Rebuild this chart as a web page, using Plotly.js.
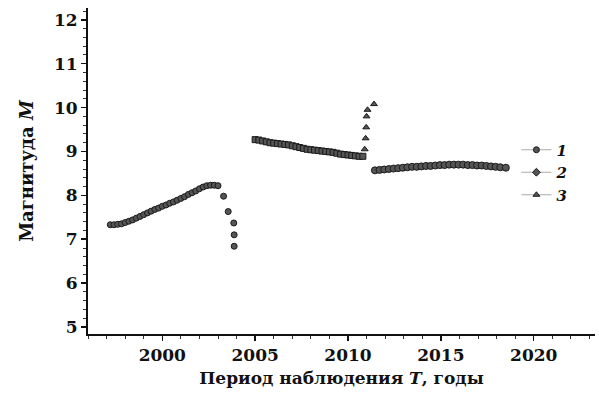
<!DOCTYPE html>
<html>
<head>
<meta charset="utf-8">
<script src="https://cdn.plot.ly/plotly-3.0.1.min.js"></script>
<style>html,body{margin:0;padding:0;background:#fff;}#chart{width:599px;height:400px;}</style>
</head>
<body>
<div id="chart"></div>
<script>
// Series 1 (circles): first segment 1997–2003.9 and third segment 2011.5–2018.5
const s1aYears = [1997.2,1997.4,1997.6,1997.8,1998.0,1998.2,1998.4,1998.6,1998.8,1999.0,
  1999.2,1999.4,1999.6,1999.8,2000.0,2000.2,2000.4,2000.6,2000.8,2001.0,
  2001.2,2001.4,2001.6,2001.8,2002.0,2002.2,2002.4,2002.6,2002.8,2003.0,
  2003.3,2003.55,2003.85,2003.87,2003.87];
const s1aMag = [7.33,7.33,7.34,7.35,7.38,7.41,7.44,7.48,7.52,7.56,
  7.60,7.64,7.68,7.71,7.75,7.78,7.82,7.85,7.89,7.93,
  7.97,8.02,8.06,8.10,8.15,8.19,8.22,8.23,8.23,8.22,
  7.98,7.63,7.37,7.10,6.84];
const s1bYears = [2011.45,2011.7,2011.95,2012.2,2012.45,2012.7,2012.95,2013.2,2013.45,2013.7,
  2013.95,2014.2,2014.45,2014.7,2014.95,2015.2,2015.45,2015.7,2015.95,2016.2,
  2016.45,2016.7,2016.95,2017.2,2017.45,2017.7,2017.95,2018.2,2018.5];
const s1bMag = [8.57,8.58,8.59,8.60,8.61,8.62,8.63,8.64,8.65,8.65,
  8.66,8.67,8.67,8.68,8.69,8.69,8.70,8.70,8.70,8.70,
  8.69,8.69,8.68,8.68,8.67,8.66,8.65,8.64,8.63];
// Series 2: 2005–2010.8
const s2Years = [2005.0,2005.2,2005.4,2005.6,2005.8,2006.0,2006.2,2006.4,2006.6,2006.8,
  2007.0,2007.2,2007.4,2007.6,2007.8,2008.0,2008.2,2008.4,2008.6,2008.8,
  2009.0,2009.2,2009.4,2009.6,2009.8,2010.0,2010.2,2010.4,2010.6,2010.8];
const s2Mag = [9.27,9.26,9.24,9.22,9.20,9.19,9.18,9.17,9.16,9.15,
  9.13,9.11,9.09,9.07,9.05,9.04,9.03,9.02,9.01,9.00,
  8.99,8.98,8.96,8.94,8.93,8.92,8.91,8.90,8.89,8.89];
// Series 3: rise in 2011
const s3Years = [2010.9,2010.95,2010.98,2011.0,2011.05,2011.4];
const s3Mag = [9.05,9.30,9.55,9.80,9.95,10.08];
const legendNames = ['1','2','3'];
const xTicks = [2000,2005,2010,2015,2020];
const yTicks = [5,6,7,8,9,10,11,12];

const serif = '"DejaVu Serif", "Liberation Serif", serif';
const mk = (sym, size) => ({symbol: sym, size: size, color: '#555', line: {color: '#1a1a1a', width: 1}});

const traces = [
  {x: s1aYears, y: s1aMag, mode: 'markers', marker: mk('circle', 6), showlegend: false},
  {x: s1bYears, y: s1bMag, mode: 'markers', marker: mk('circle', 7), showlegend: false},
  {x: s2Years, y: s2Mag, mode: 'markers', marker: mk('square', 6), showlegend: false},
  {x: s3Years, y: s3Mag, mode: 'markers', marker: mk('triangle-up', 6), showlegend: false},
  {x: [null], y: [null], mode: 'lines+markers', name: '<b><i>' + legendNames[0] + '</i></b>', marker: mk('circle', 6), line: {color: '#aaa', width: 1}},
  {x: [null], y: [null], mode: 'lines+markers', name: '<b><i>' + legendNames[1] + '</i></b>', marker: mk('diamond', 6), line: {color: '#aaa', width: 1}},
  {x: [null], y: [null], mode: 'lines+markers', name: '<b><i>' + legendNames[2] + '</i></b>', marker: mk('triangle-up', 6), line: {color: '#aaa', width: 1}}
];

const layout = {
  width: 599, height: 400,
  margin: {l: 88, r: 4, t: 8, b: 66},
  paper_bgcolor: '#fff', plot_bgcolor: '#fff',
  font: {family: serif, color: '#111'},
  showlegend: true,
  legend: {x: 0.845, y: 0.615, xanchor: 'left', yanchor: 'top', bgcolor: 'rgba(0,0,0,0)',
    font: {family: serif, size: 15, color: '#111'}, itemwidth: 30, tracegroupgap: 0},
  xaxis: {
    range: [1996, 2023.3], tickmode: 'array', tickvals: xTicks, ticktext: xTicks.map(v => '<b>' + v + '</b>'),
    showgrid: false, zeroline: false, showline: true, linecolor: '#111', linewidth: 2,
    ticks: 'outside', ticklen: 5, tickwidth: 1.5, tickcolor: '#111',
    minor: {dtick: 1, tick0: 1996, ticks: 'outside', ticklen: 3, tickwidth: 1, tickcolor: '#333', showgrid: false},
    tickfont: {family: serif, size: 17, color: '#111'},
    title: {text: '<b>Период наблюдения <i>T</i>, годы</b>', font: {family: serif, size: 17, color: '#111'}, standoff: 8},
    automargin: false
  },
  yaxis: {
    range: [4.84, 12.27], tickmode: 'array', tickvals: yTicks, ticktext: yTicks.map(v => '<b>' + v + '</b>'),
    showgrid: false, zeroline: false, showline: true, linecolor: '#111', linewidth: 2,
    ticks: 'outside', ticklen: 5, tickwidth: 1.5, tickcolor: '#111',
    minor: {dtick: 0.2, tick0: 5, ticks: 'outside', ticklen: 3, tickwidth: 1, tickcolor: '#333', showgrid: false},
    tickfont: {family: serif, size: 17, color: '#111'},
    title: {text: '<b>Магнитуда <i>M</i></b>', font: {family: serif, size: 18, color: '#111'}, standoff: 16},
    automargin: false
  }
};

Plotly.newPlot('chart', traces, layout, {staticPlot: true, displayModeBar: false});
</script>
</body>
</html>
